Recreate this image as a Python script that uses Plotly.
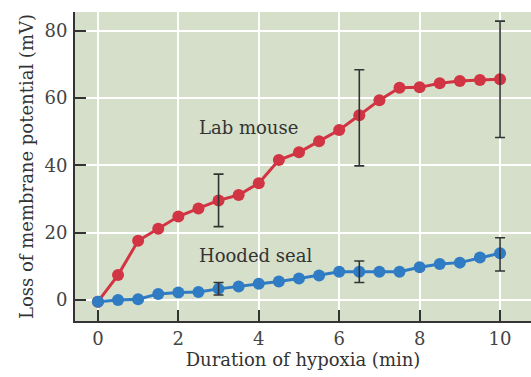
import plotly.graph_objects as go

time_min = [0, 0.5, 1, 1.5, 2, 2.5, 3, 3.5, 4, 4.5, 5, 5.5, 6, 6.5, 7, 7.5, 8, 8.5, 9, 9.5, 10]
mouse = [-0.5, 7.4, 17.6, 21.2, 24.8, 27.2, 29.6, 31.2, 34.7, 41.6, 43.9, 47.2, 50.5, 54.9, 59.4, 63.1, 63.2, 64.4, 65.1, 65.4, 65.6]
seal = [-0.5, 0.0, 0.2, 1.8, 2.2, 2.4, 3.3, 4.0, 4.8, 5.5, 6.4, 7.3, 8.4, 8.4, 8.4, 8.4, 9.7, 10.7, 11.1, 12.6, 13.9]

err_time = [3, 6.5, 10]
mouse_err_center = [29.6, 54.15, 65.6]
mouse_err = [7.8, 14.3, 17.3]
seal_err_center = [3.35, 8.4, 13.55]
seal_err = [1.85, 3.2, 4.95]

red = "#d13442"
blue = "#2f7bc4"
ink = "#333333"
font_family = "DejaVu Serif, serif"

fig = go.Figure()

for x, y, c in [(time_min, mouse, red), (time_min, seal, blue)]:
    fig.add_trace(go.Scatter(
        x=x, y=y, mode="lines+markers",
        line=dict(color=c, width=3),
        marker=dict(color=c, size=12),
        showlegend=False, hoverinfo="skip"))

for ctr, err in [(mouse_err_center, mouse_err), (seal_err_center, seal_err)]:
    fig.add_trace(go.Scatter(
        x=err_time, y=ctr, mode="markers",
        marker=dict(size=1, opacity=0),
        error_y=dict(type="data", array=err, visible=True, color=ink, thickness=1.6, width=5),
        showlegend=False, hoverinfo="skip"))

fig.add_annotation(x=2.46, y=51.2, text="Lab mouse", showarrow=False, xanchor="left",
                   font=dict(size=18, color=ink, family=font_family))
fig.add_annotation(x=2.46, y=13.2, text="Hooded seal", showarrow=False, xanchor="left",
                   font=dict(size=18, color=ink, family=font_family))

fig.update_layout(
    width=531, height=377,
    margin=dict(l=75, r=0, t=12, b=56),
    paper_bgcolor="white",
    plot_bgcolor="#d6dfc9",
    font=dict(family=font_family, color=ink, size=18),
    xaxis=dict(
        range=[-0.57, 10.77], tickvals=[0, 2, 4, 6, 8, 10],
        showgrid=True, gridcolor="white", gridwidth=2,
        zeroline=False,
        showline=True, linecolor=ink, linewidth=2,
        ticks="inside", ticklen=11, tickwidth=1.5, tickcolor=ink,
        ticklabelstandoff=0,
        title=dict(text="Duration of hypoxia (min)", font=dict(size=18), standoff=5),
        tickfont=dict(size=18, color="#444444"),
    ),
    yaxis=dict(
        range=[-6.25, 85.6], tickvals=[0, 20, 40, 60, 80],
        showgrid=True, gridcolor="white", gridwidth=2,
        zeroline=False,
        showline=True, linecolor=ink, linewidth=2,
        ticks="inside", ticklen=11, tickwidth=1.5, tickcolor=ink,
        ticklabelstandoff=2,
        title=dict(text="Loss of membrane potential (mV)", font=dict(size=18), standoff=6),
        tickfont=dict(size=18, color="#444444"),
    ),
)

fig.write_html("out.html")
